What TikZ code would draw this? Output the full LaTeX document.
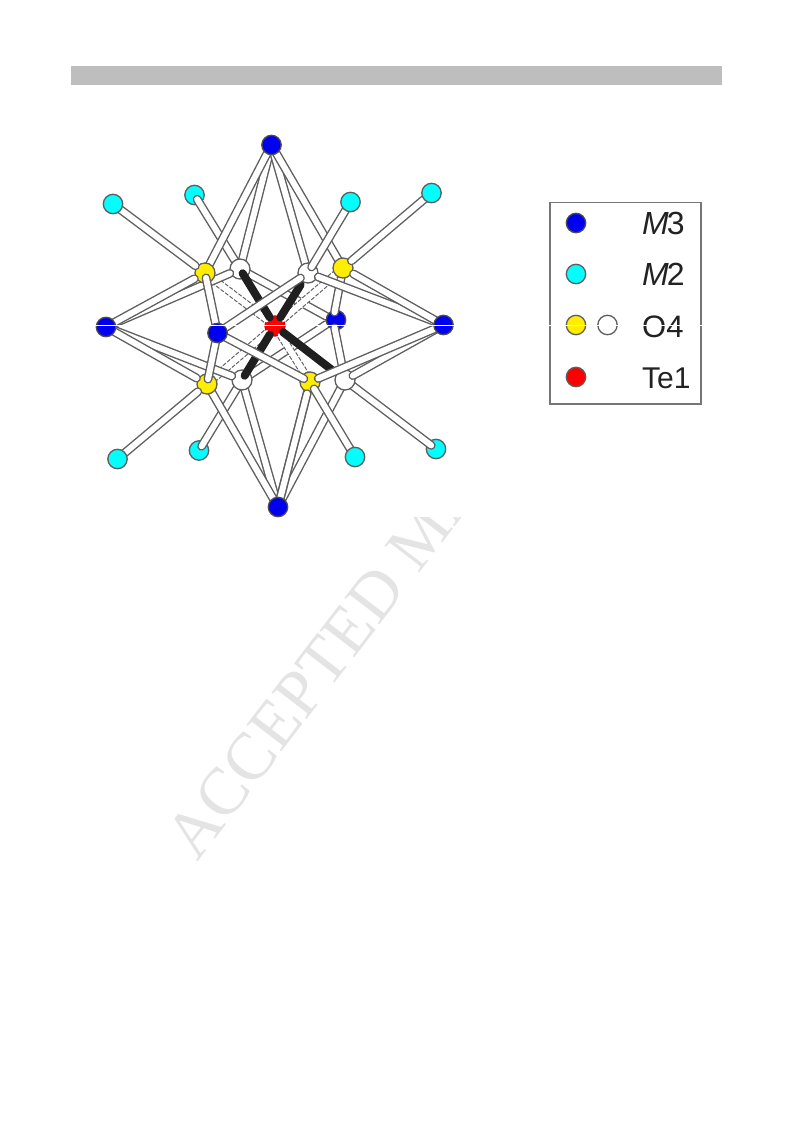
\documentclass[tikz,border=0pt]{standalone}
\usepackage{fontspec}
\setmainfont{Liberation Sans}
\newfontfamily\wmfont{Liberation Serif}
\usetikzlibrary{calc}
\definecolor{edgegray}{HTML}{5E5E5E}
\definecolor{barGray}{HTML}{BEBEBE}
\definecolor{wmGray}{HTML}{E4E4E4}
\definecolor{txt}{HTML}{222222}
\definecolor{mthree}{HTML}{0000F0}
\definecolor{mtwo}{HTML}{00FFFF}
\definecolor{ofour}{HTML}{FFEE00}
\definecolor{teone}{HTML}{FF0000}
\tikzset{
 atom/.style={circle,draw=edgegray,line width=1.3pt,minimum size=19.4pt,inner sep=0pt,outer sep=0pt},
 matom/.style={atom,fill=mthree,draw=black!70},
 ntwo/.style={atom,fill=mtwo},
 oyel/.style={atom,fill=ofour,minimum size=20pt},
 owht/.style={atom,fill=white,minimum size=20pt},
 tered/.style={atom,fill=teone,minimum size=20pt,draw=teone!85!black},
 tubeout/.style={line width=8.8pt,edgegray,line cap=round},
 tubein/.style={line width=6.0pt,white,line cap=round},
 blackbond/.style={line width=8pt,black!88,line cap=round},
 legendtext/.style={font=\fontsize{30}{30}\selectfont,text=txt,anchor=base west,inner sep=0pt},
}
% #1,#2 = end points, #3,#4 = how far each end is drawn back along the bond
\newcommand{\tube}[4]{%
 \draw[tubeout] ($(#1)!#3pt!(#2)$) -- ($(#2)!#4pt!(#1)$);
 \draw[tubein] ($(#1)!#3pt!(#2)$) -- ($(#2)!#4pt!(#1)$);}
\newcommand{\dashtube}[4]{%
 \draw[line width=8.2pt,white] ($(#1)!#3pt!(#2)$) -- ($(#2)!#4pt!(#1)$);
 \draw[line width=8.2pt,edgegray,dash pattern=on 4pt off 1.6pt] ($(#1)!#3pt!(#2)$) -- ($(#2)!#4pt!(#1)$);
 \draw[line width=6.0pt,white,line cap=round] ($(#1)!#3pt!(#2)$) -- ($(#2)!#4pt!(#1)$);}
\begin{document}
\begin{tikzpicture}[x=1pt,y=-1pt]
\useasboundingbox (0,0) rectangle (793,1123);
% watermark, masked by the figure's white area
\node[rotate=52.5,anchor=base west,inner sep=0pt,text=wmGray,font=\wmfont\fontsize{67}{67}\selectfont] (wm) at (197,863) {ACCEPTED MA};
\fill[white] (60,100) rectangle (733,517);
\fill[barGray] (71,66) rectangle (722,85);
% positions
\coordinate (T) at (271.5,145);
\coordinate (B) at (278,507);
\coordinate (L) at (106,327);
\coordinate (R) at (443.5,325);
\coordinate (F) at (217.5,333);
\coordinate (K) at (333,320);
\coordinate (Te) at (275,326);
\coordinate (a1) at (113,204);
\coordinate (a2) at (194.5,195);
\coordinate (a3) at (350.5,202);
\coordinate (a4) at (431.5,193);
\coordinate (a5) at (117.5,459);
\coordinate (a6) at (199,450.5);
\coordinate (a7) at (355,457);
\coordinate (a8) at (436,449);
\coordinate (y1) at (205,273);
\coordinate (y2) at (343,268);
\coordinate (y3) at (207,384);
\coordinate (y4) at (310,382);
\coordinate (w1) at (240,269);
\coordinate (w2) at (308,273);
\coordinate (w3) at (242,380);
\coordinate (w4) at (345,380);
% back layer
\node[ntwo] (n2) at (a2) {};
\node[ntwo] (n6) at (a6) {};
\node[ntwo] (n8) at (a8) {};
\tube{a2}{w1}{5}{0}
\tube{a6}{w3}{5}{0}
\tube{a8}{w4}{6}{0}
\tube{w1}{K}{0}{8}
\tube{w3}{K}{0}{8}
\node[matom] (nK) at (336,320) {};
\tube{y2}{K}{0}{8}
\tube{w4}{K}{0}{8}
\tube{T}{w1}{0}{0}
\tube{T}{w2}{0}{0}
\tube{B}{w3}{0}{0}
\tube{B}{w4}{0}{0}
\tube{T}{y2}{0}{0}
\tube{B}{y4}{0}{0}
\tube{T}{y1}{0}{0}
\tube{B}{y3}{0}{0}
% central atom and dashed bonds
\node[tered] (nTe) at (Te) {};
\dashtube{Te}{y1}{11}{0}
\dashtube{Te}{y2}{11}{0}
\dashtube{Te}{y3}{11}{0}
\dashtube{Te}{y4}{11}{0}
% white O4
\node[owht] (nw1) at (w1) {};
\node[owht] (nw2) at (w2) {};
\node[owht] (nw3) at (w3) {};
\node[owht] (nw4) at (w4) {};
\tube{L}{w1}{0}{11}
\tube{L}{w3}{0}{11}
\tube{R}{w2}{0}{11}
\tube{R}{w4}{0}{9}
\tube{a3}{w2}{0}{7}
% Te bonds
\draw[blackbond] ($(Te)!10pt!(w1)$) -- ($(w1)!5pt!(Te)$);
\draw[blackbond] ($(Te)!10pt!(w2)$) -- ($(w2)!14pt!(Te)$);
\draw[blackbond] ($(Te)!10pt!(w3)$) -- ($(w3)!5pt!(Te)$);
\draw[blackbond] ($(Te)!10pt!(w4)$) -- ($(w4)!15pt!(Te)$);
% yellow O4
\node[oyel] (ny1) at (y1) {};
\node[oyel] (ny2) at (y2) {};
\node[oyel] (ny3) at (y3) {};
\node[oyel] (ny4) at (y4) {};
\tube{L}{y1}{0}{12}
\tube{L}{y3}{0}{12}
\tube{R}{y2}{0}{12}
\tube{R}{y4}{0}{9}
\tube{a1}{y1}{0}{12}
\tube{a4}{y2}{0}{11}
\tube{a5}{y3}{0}{12}
\tube{a7}{y4}{0}{8}
\tube{B}{y4}{0}{12}
% outer atoms
\node[matom] (nT) at (T) {};
\node[matom] (nB) at (B) {};
\node[matom] (nL) at (L) {};
\node[matom] (nR) at (R) {};
\node[ntwo] (n1) at (a1) {};
\node[ntwo] (n3) at (a3) {};
\node[ntwo] (n4) at (a4) {};
\node[ntwo] (n5) at (a5) {};
\node[ntwo] (n7) at (a7) {};
% front M3
\tube{F}{y1}{0}{5}
\tube{F}{y3}{0}{5}
\tube{F}{w2}{0}{9}
\tube{F}{y4}{0}{7}
\node[matom] (nF) at (F) {};
% legend
\draw[edgegray!85,line width=1.6pt] (550,202.5) rectangle (701,404);
\node[matom] (l1) at (576,223) {};
\node[ntwo] (l2) at (576,274) {};
\node[atom,fill=ofour] (l3) at (576,325) {};
\node[atom,fill=white] (l4) at (607.5,325) {};
\node[atom,fill=teone] (l5) at (576,377) {};
\node[legendtext] (t1) at (642,235) {\fontsize{32}{32}\selectfont\itshape M\kern-2pt\upshape 3};
\node[legendtext] (t2) at (642,285) {\fontsize{32}{32}\selectfont\itshape M\kern-2pt\upshape 2};
\node[legendtext] (t3) at (642,337) {\fontsize{31}{31}\selectfont O4};
\node[legendtext] (t4) at (642,388) {Te1};
% thin white seam across the page
\draw[white,line width=0.25pt] (92,325.5) -- (704,325.5);
\end{tikzpicture}
\end{document}
